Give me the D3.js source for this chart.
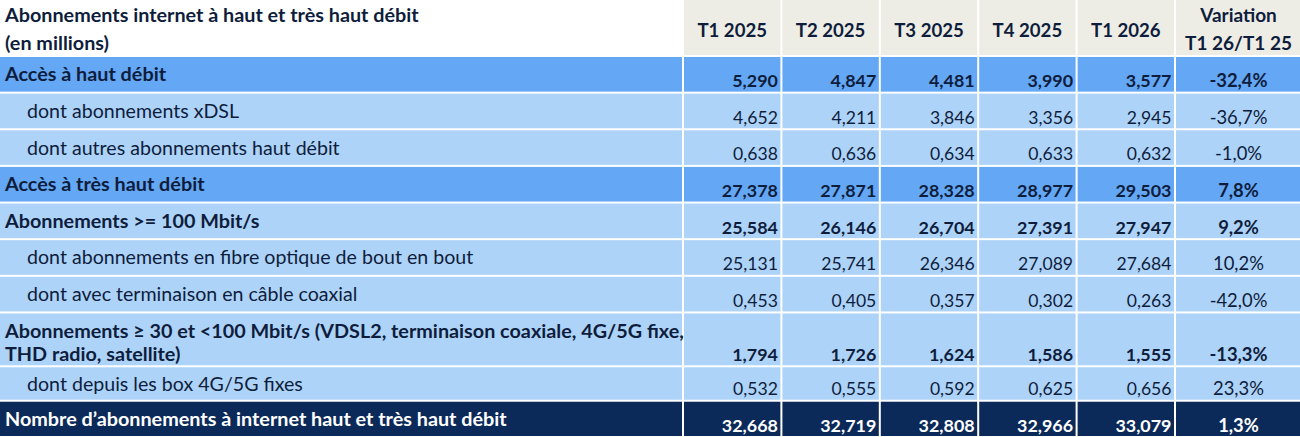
<!DOCTYPE html>
<html>
<head>
<meta charset="utf-8">
<script src="https://cdn.jsdelivr.net/npm/d3@7"></script>
<style>
  html, body { margin: 0; padding: 0; background: #ffffff; }
  svg { display: block; font-family: Lato, "Open Sans", sans-serif; }
</style>
</head>
<body>
<svg id="chart" width="1300" height="437"></svg>
<script>
// ---- data ----
const titleLines = ["Abonnements internet à haut et très haut débit", "(en millions)"];
const quarters = ["T1 2025", "T2 2025", "T3 2025", "T4 2025", "T1 2026"];
const variationHeader = ["Variation", "T1 26/T1 25"];

const rowLabels = [
  ["Accès à haut débit"],
  ["dont abonnements xDSL"],
  ["dont autres abonnements haut débit"],
  ["Accès à très haut débit"],
  ["Abonnements >= 100 Mbit/s"],
  ["dont abonnements en fibre optique de bout en bout"],
  ["dont avec terminaison en câble coaxial"],
  ["Abonnements ≥ 30 et <100 Mbit/s (VDSL2, terminaison coaxiale, 4G/5G fixe,", "THD radio, satellite)"],
  ["dont depuis les box 4G/5G fixes"],
  ["Nombre d’abonnements à internet haut et très haut débit"]
];
const rowKinds = ["main", "sub", "sub", "main", "section", "sub", "sub", "section", "sub", "total"];

const t1_2025 = [5.290, 4.652, 0.638, 27.378, 25.584, 25.131, 0.453, 1.794, 0.532, 32.668];
const t2_2025 = [4.847, 4.211, 0.636, 27.871, 26.146, 25.741, 0.405, 1.726, 0.555, 32.719];
const t3_2025 = [4.481, 3.846, 0.634, 28.328, 26.704, 26.346, 0.357, 1.624, 0.592, 32.808];
const t4_2025 = [3.990, 3.356, 0.633, 28.977, 27.391, 27.089, 0.302, 1.586, 0.625, 32.966];
const t1_2026 = [3.577, 2.945, 0.632, 29.503, 27.947, 27.684, 0.263, 1.555, 0.656, 33.079];
const variation = [-32.4, -36.7, -1.0, 7.8, 9.2, 10.2, -42.0, -13.3, 23.3, 1.3];

// ---- layout / style ----
const W = 1300, H = 437;
const headerH = 56;
const rowUnits = [1, 1, 1, 1, 1, 1, 1, 1.47, 0.94, 0.99];
const labelColW = 683;
const varColX = 1175;

const fills = { main: "#63a7f5", sub: "#add3f8", section: "#add3f8", total: "#0b2a59" };
const textDark = "#0f1d3c";
const headerFill = "#eeede5";
const boldLabelSize = 19.8, regLabelSize = 19.6, headSize = 19;
const boldValSize = 17.9, regValSize = 17.6, pctSize = 18.4;

const series = [t1_2025, t2_2025, t3_2025, t4_2025, t1_2026];

const fr = d3.formatLocale({ decimal: ",", thousands: " ", grouping: [3], currency: ["", " €"], minus: "-" });
const fmtVal = fr.format(".3f");
const fmtPct = v => fr.format(".1f")(v) + "%";

const svg = d3.select("#chart");
svg.append("rect").attr("width", W).attr("height", H).attr("fill", "#ffffff");

const x = d3.scaleBand().domain(quarters).range([labelColW, varColX]);
const cumUnits = [0, ...d3.cumsum(rowUnits)];
const yU = d3.scaleLinear().domain([0, d3.sum(rowUnits)]).range([headerH, H]);
const rowTop = i => yU(cumUnits[i]);
const rowBot = i => yU(cumUnits[i + 1]);

const gap = 1; // half of the white grid line

// header
const hdr = svg.append("g");
hdr.selectAll("text.title").data(titleLines).join("text")
  .attr("x", 5).attr("y", (d, i) => 22 + i * 28)
  .attr("font-size", boldLabelSize).attr("font-weight", 700).attr("fill", textDark)
  .text(d => d);

hdr.selectAll("rect.q").data(quarters).join("rect")
  .attr("x", d => x(d) + gap).attr("y", 0)
  .attr("width", x.bandwidth() - 2 * gap).attr("height", headerH - gap)
  .attr("fill", headerFill);
hdr.append("rect")
  .attr("x", varColX + gap).attr("y", 0)
  .attr("width", W - varColX - gap).attr("height", headerH - gap)
  .attr("fill", headerFill);

hdr.selectAll("text.q").data(quarters).join("text")
  .attr("x", d => x(d) + x.bandwidth() / 2).attr("y", 36.5)
  .attr("text-anchor", "middle")
  .attr("font-size", 18.6).attr("font-weight", 700).attr("fill", textDark)
  .text(d => d);
hdr.selectAll("text.v").data(variationHeader).join("text")
  .attr("x", (varColX + W) / 2 + 1).attr("y", (d, i) => 22 + i * 28)
  .attr("text-anchor", "middle")
  .attr("font-size", headSize).attr("font-weight", 700).attr("fill", textDark)
  .text(d => d);

// body rows
const rows = svg.append("g").selectAll("g.row").data(rowLabels.map((lab, i) => ({ lab, i, kind: rowKinds[i] })))
  .join("g").attr("class", "row");

// label cell
rows.append("rect")
  .attr("x", 0).attr("y", d => rowTop(d.i) + gap)
  .attr("width", labelColW - gap).attr("height", d => rowBot(d.i) - rowTop(d.i) - 2 * gap)
  .attr("fill", d => fills[d.kind]);

// value cells
rows.each(function (d) {
  const g = d3.select(this);
  const top = rowTop(d.i), bot = rowBot(d.i);
  const col = d.kind === "total" ? "#ffffff" : textDark;
  const isBold = d.kind !== "sub";
  const bold = isBold ? 700 : 400;
  g.selectAll("rect.v").data(quarters).join("rect")
    .attr("x", q => x(q) + gap).attr("y", top + gap)
    .attr("width", x.bandwidth() - 2 * gap).attr("height", bot - top - 2 * gap)
    .attr("fill", fills[d.kind]);
  g.append("rect")
    .attr("x", varColX + gap).attr("y", top + gap)
    .attr("width", W - varColX - gap).attr("height", bot - top - 2 * gap)
    .attr("fill", fills[d.kind]);

  g.selectAll("text.lab").data(d.lab).join("text")
    .attr("x", isBold ? 5 : 27)
    .attr("y", (t, k) => d.lab.length > 1 ? top + 26 + k * 22.5 : (top + bot) / 2 + 7)
    .attr("font-size", isBold ? boldLabelSize : regLabelSize).attr("font-weight", bold).attr("fill", col)
    .text(t => t);

  g.selectAll("text.val").data(quarters).join("text")
    .attr("x", (q) => x(q) + x.bandwidth() - 3.5)
    .attr("y", bot - 5.5)
    .attr("text-anchor", "end")
    .attr("font-size", isBold ? boldValSize : regValSize).attr("font-weight", bold).attr("fill", col)
    .text((q, k) => fmtVal(series[k][d.i]));

  g.append("text")
    .attr("x", (varColX + W) / 2 + 1).attr("y", bot - 5.5)
    .attr("text-anchor", "middle")
    .attr("font-size", pctSize).attr("font-weight", bold).attr("fill", col)
    .text(fmtPct(variation[d.i]));
});
</script>
</body>
</html>
